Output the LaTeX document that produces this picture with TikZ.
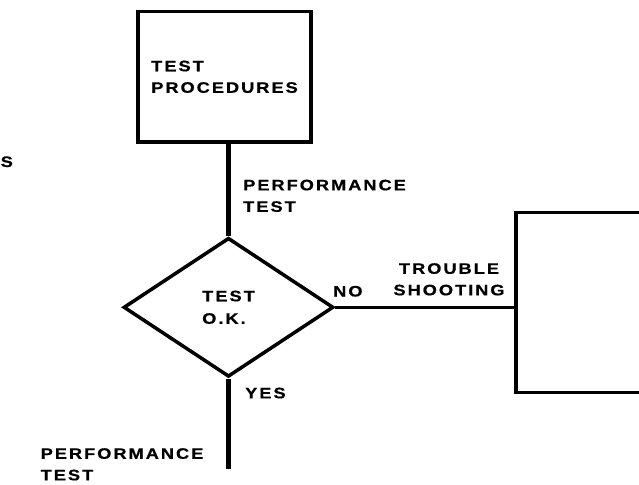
\documentclass[tikz,border=0pt]{standalone}
\usepackage{fontspec}
\newfontfamily\lblfont{Liberation Sans Bold}[FakeStretch=1.2,LetterSpace=13,FakeBold=0.6]
\usetikzlibrary{shapes.geometric}
\tikzset{
  lbl/.style={font=\lblfont\fontsize{15.2}{21.5}\selectfont, inner sep=0pt},
  boxline/.style={draw, line width=3.5pt},
  conn/.style={line width=4.5pt, line cap=butt},
  hconn/.style={line width=3.5pt, line cap=butt},
}
\begin{document}
\begin{tikzpicture}[x=1pt,y=-1pt]
\useasboundingbox (0,0) rectangle (639,484);
\clip (0,0) rectangle (639,484);
% boxes
\node[boxline, lbl, align=left, minimum width=173pt, minimum height=130.5pt, line width=3.5pt] (proc) at (224.5,76.8) {TEST\\PROCEDURES};
\node[boxline, diamond, lbl, align=left, minimum width=210pt, minimum height=139pt, line width=3.5pt,
      font=\lblfont\fontsize{15.2}{22.5}\selectfont] (dec) at (228.5,307.3) {TEST\\O.K.};
\node[boxline, minimum width=164pt, minimum height=180pt] (fix) at (598,302.7) {};
\coordinate (yesend) at (228.5,469);
% connectors
\draw[conn] (proc.south -| dec.north) -- (dec.north);
\draw[conn] (dec.south) -- (yesend);
\draw[hconn] (dec.east) -- (dec.east -| fix.west);
% labels
\node[lbl, anchor=base west] (s) at (0.5,167) {S};
\node[lbl, anchor=north west, align=left] (perf1) at (243,179.5) {PERFORMANCE\\TEST};
\node[lbl, anchor=north west, align=left] (perf2) at (40.5,448) {PERFORMANCE\\TEST};
\node[lbl, anchor=north, align=center] (trouble) at (449,263) {TROUBLE\\SHOOTING};
\node[lbl, anchor=base west] (no) at (333,296.5) {NO};
\node[lbl, anchor=base west] (yes) at (245,398.3) {YES};
\end{tikzpicture}
\end{document}
